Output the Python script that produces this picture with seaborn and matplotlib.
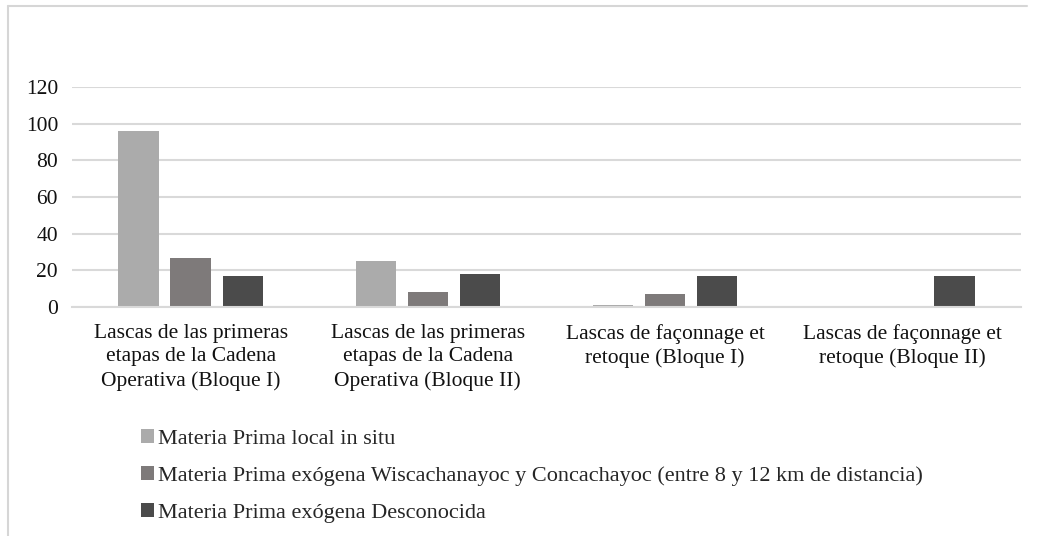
import matplotlib
matplotlib.use("Agg")
import matplotlib.pyplot as plt
import seaborn as sns
import pandas as pd
from matplotlib.lines import Line2D
from matplotlib.patches import Patch

categories = [
    "Lascas de las primeras\netapas de la Cadena\nOperativa (Bloque I)",
    "Lascas de las primeras\netapas de la Cadena\nOperativa (Bloque II)",
    "Lascas de façonnage et\nretoque (Bloque I)",
    "Lascas de façonnage et\nretoque (Bloque II)",
]
series_names = [
    "Materia Prima local in situ",
    "Materia Prima exógena Wiscachanayoc y Concachayoc (entre 8 y 12 km de distancia)",
    "Materia Prima exógena Desconocida",
]
local_vals = [96, 25, 1, 0]
wisca_vals = [27, 8, 7, 0]
descon_vals = [17, 18, 17, 17]
yticks = [0, 20, 40, 60, 80, 100, 120]
colors = ["#ababab", "#7e7a7a", "#4b4b4b"]

rows = []
for name, vals in zip(series_names, [local_vals, wisca_vals, descon_vals]):
    for c, v in zip(categories, vals):
        rows.append({"cat": c, "serie": name, "val": v})
df = pd.DataFrame(rows)

sns.set_theme(style="white")
plt.rcParams["font.family"] = ["Liberation Serif", "DejaVu Serif"]

fig = plt.figure(figsize=(10.37, 5.36), dpi=100)
ax = fig.add_axes([72/1037, 1-307/536, (1021-72)/1037, (307-87)/536])

sns.barplot(data=df, x="cat", y="val", hue="serie", palette=colors,
            width=0.66, ax=ax, legend=False, saturation=1)

# shrink bars keeping centers
new_w = 0.17
for p in ax.patches:
    w = p.get_width()
    cx = p.get_x() + w/2
    p.set_width(new_w)
    p.set_x(cx - new_w/2)
    p.set_linewidth(0)

ax.set_ylim(0, 120)
ax.set_xlim(-0.5, 3.5)
ax.set_yticks(yticks)
ax.set_yticklabels([str(t) for t in yticks])
ax.yaxis.grid(True, color="#d9d9d9", linewidth=1.5)
ax.set_axisbelow(True)
for s in ["top", "right", "left"]:
    ax.spines[s].set_visible(False)
ax.spines["bottom"].set_color("#d9d9d9")
ax.spines["bottom"].set_linewidth(1.5)
ax.tick_params(axis="both", length=0, labelsize=15.5, colors="#111111")
ax.tick_params(axis="y", pad=10)
ax.tick_params(axis="x", pad=12)
for lbl in ax.get_xticklabels():
    lbl.set_linespacing(1.32)
ax.set_xlabel("")
ax.set_ylabel("")

handles = [Patch(facecolor=c, edgecolor="none") for c in colors]
fig.legend(handles, series_names, loc="upper left",
           bbox_to_anchor=(132/1037, 1-420/536), frameon=False,
           fontsize=16, labelspacing=0.78, handlelength=0.6,
           handleheight=0.6, handletextpad=0.15, borderaxespad=0)

# light frame around the chart (left and top edges)
fig.add_artist(Line2D([8/1037, 8/1037], [0, 1-6/536], transform=fig.transFigure,
                      color="#d6d6d6", linewidth=1.5))
fig.add_artist(Line2D([8/1037, 1027/1037], [1-6/536, 1-6/536], transform=fig.transFigure,
                      color="#d6d6d6", linewidth=1.5))

fig.savefig("out.png", dpi=100, facecolor="white")
